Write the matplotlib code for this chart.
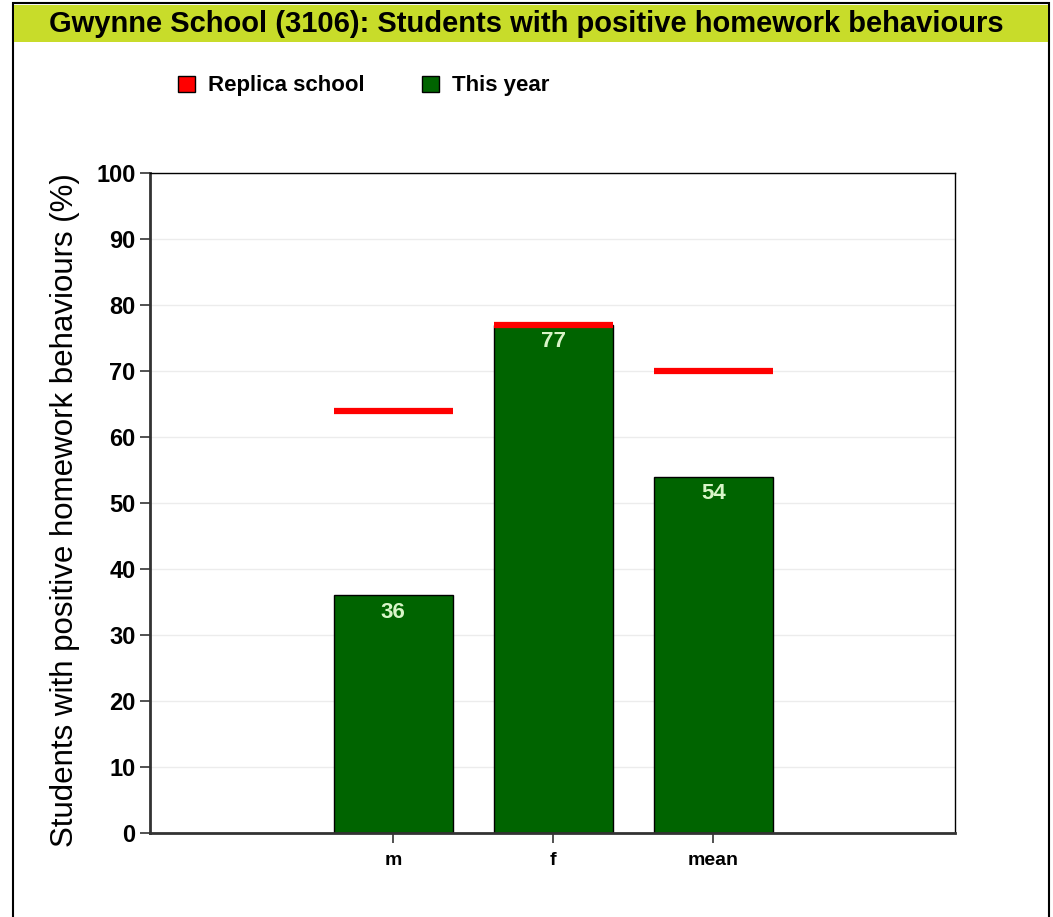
import matplotlib.pyplot as plt
import matplotlib.patches as mpatches
import numpy as np

groups = ['m', 'f', 'mean']
this_year = [36, 77, 54]
replica = [64, 77, 70]
yticks = [0, 10, 20, 30, 40, 50, 60, 70, 80, 90, 100]

bar_green = '#006400'
line_red = '#ff0000'
band = '#c8dc2a'
plt.rcParams['font.family'] = ['Liberation Sans', 'DejaVu Sans']

fig = plt.figure(figsize=(10.53, 9.17), dpi=100)

# frame (open at the bottom) and title band
fig.add_artist(mpatches.Rectangle((13 / 1053, -0.05), 1036 / 1053, 1.05 - 3 / 917,
                                  transform=fig.transFigure, fill=False,
                                  edgecolor='black', linewidth=1.5))
fig.add_artist(mpatches.Rectangle((14 / 1053, 1 - 42 / 917), 1034 / 1053, 37 / 917,
                                  transform=fig.transFigure, facecolor=band,
                                  edgecolor='none'))
fig.text(0.5, 1 - 24 / 917, 'Gwynne School (3106): Students with positive homework behaviours',
         ha='center', va='center', fontsize=21, fontweight='bold')

ax = fig.add_axes([150 / 1053, 1 - 833 / 917, 805 / 1053, 660 / 917])
x = np.arange(len(groups))
width = 0.745
ax.bar(x, this_year, width, color=bar_green, edgecolor='black', linewidth=1, zorder=2)
ax.hlines(replica, x - width / 2, x + width / 2, colors=line_red, linewidth=4.5, zorder=3)

for xi, v in zip(x, this_year):
    ax.text(xi, v - 2.6, str(v), ha='center', va='center', color='#d8f5c8',
            fontsize=16, fontweight='bold', zorder=4)

ax.set_xlim(-1.52, 3.51)
ax.set_ylim(0, 100)
ax.set_xticks(x)
ax.set_xticklabels(groups, fontsize=14, fontweight='bold')
ax.set_yticks(yticks)
ax.set_yticklabels([str(t) for t in yticks], fontsize=17, fontweight='bold')
ax.tick_params(axis='both', length=7, width=1.2, color='#333333')
ax.tick_params(axis='x', pad=7)
ax.yaxis.grid(True, color='#ececec', linewidth=1, zorder=0)
ax.set_axisbelow(True)
for s in ['left', 'bottom']:
    ax.spines[s].set_linewidth(2)
    ax.spines[s].set_color('#333333')
for s in ['top', 'right']:
    ax.spines[s].set_linewidth(1)

fig.text(65 / 1053, 1 - 510 / 917, 'Students with positive homework behaviours (%)',
         rotation=90, ha='center', va='center', fontsize=22.5)

# legend
handles = [mpatches.Patch(facecolor=line_red, edgecolor='black', label='Replica school'),
           mpatches.Patch(facecolor=bar_green, edgecolor='black', label='This year')]
fig.legend(handles=handles, loc='center left', bbox_to_anchor=(158 / 1053, 1 - 86 / 917),
           ncol=2, frameon=False, handlelength=0.75, handleheight=0.75, handletextpad=0.6,
           columnspacing=2.6, prop={'weight': 'bold', 'size': 16})

fig.savefig('out.png', dpi=100)
